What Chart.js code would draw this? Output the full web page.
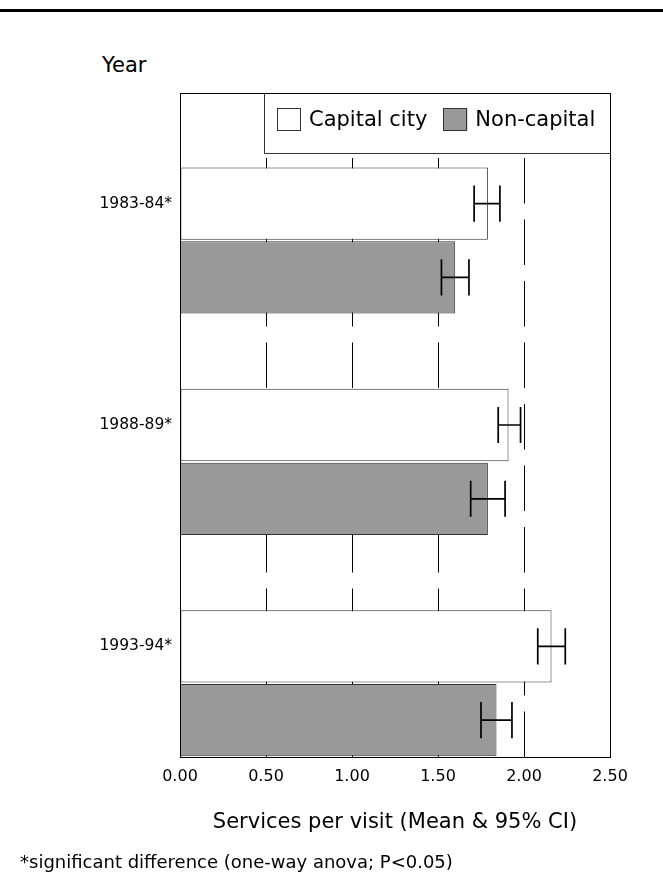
<!DOCTYPE html>
<html>
<head>
<meta charset="utf-8">
<script src="https://cdn.jsdelivr.net/npm/chart.js@4/dist/chart.umd.min.js"></script>
<style>
  body { margin: 0; background: #fff; }
  #wrap { position: relative; width: 663px; height: 896px; overflow: hidden; font-family: "DejaVu Sans", sans-serif; color: #000; }
  #grafico { position: absolute; left: 0; top: 0; }
  #rule { position: absolute; left: 0; top: 9px; width: 663px; height: 3px; background: #000; }
  #year { position: absolute; left: 102px; top: 52px; font-size: 21px; line-height: 26px; }
  #nota { position: absolute; left: 20px; top: 850px; font-size: 18px; line-height: 24px; white-space: nowrap; }
</style>
</head>
<body>
<div id="wrap">
  <div id="rule"></div>
  <div id="year">Year</div>
  <canvas id="grafico" width="663" height="896"></canvas>
  <div id="nota">*significant difference (one-way anova; P&lt;0.05)</div>
</div>
<script>
const anos = ["1983-84*", "1988-89*", "1993-94*"];

// media e IC 95% - capital
const capitalMedia = [1.79, 1.91, 2.16];
const capitalMin = [1.71, 1.85, 2.08];
const capitalMax = [1.86, 1.98, 2.24];

// media e IC 95% - interior
const interiorMedia = [1.60, 1.79, 1.84];
const interiorMin = [1.52, 1.69, 1.75];
const interiorMax = [1.68, 1.89, 1.93];

const xTicks = [0, 0.5, 1, 1.5, 2, 2.5];

const intervalos = {
  1: { lo: capitalMin, hi: capitalMax },
  2: { lo: interiorMin, hi: interiorMax }
};

// barras de erro (IC)
const errorBars = {
  id: "errorBars",
  afterDatasetsDraw(chart) {
    const ctx = chart.ctx;
    const x = chart.scales.x;
    ctx.save();
    ctx.strokeStyle = "#000";
    ctx.lineWidth = 1.7;
    Object.keys(intervalos).forEach(di => {
      const meta = chart.getDatasetMeta(+di);
      meta.data.forEach((bar, i) => {
        const x1 = x.getPixelForValue(intervalos[di].lo[i]);
        const x2 = x.getPixelForValue(intervalos[di].hi[i]);
        const h = bar.height / 4;
        ctx.beginPath();
        ctx.moveTo(x1, bar.y); ctx.lineTo(x2, bar.y);
        ctx.moveTo(x1, bar.y - h); ctx.lineTo(x1, bar.y + h);
        ctx.moveTo(x2, bar.y - h); ctx.lineTo(x2, bar.y + h);
        ctx.stroke();
      });
    });
    ctx.restore();
  }
};

// moldura + legenda dentro do grafico
const moldura = {
  id: "moldura",
  afterDatasetsDraw(chart) {
    const { ctx, chartArea: a } = chart;
    ctx.save();
    // legenda
    const lw = 346, lh = 60;
    const lx = a.right - lw, ly = a.top;
    ctx.fillStyle = "#fff";
    ctx.fillRect(lx, ly, lw, lh);
    ctx.strokeStyle = "#333";
    ctx.lineWidth = 1;
    ctx.strokeRect(Math.round(lx) + 0.5, Math.round(ly) + 0.5, lw, lh);
    ctx.font = '21px "DejaVu Sans"';
    ctx.textBaseline = "middle";
    let cx = lx + 13;
    chart.data.datasets.filter(d => d.label).forEach(d => {
      ctx.fillStyle = d.backgroundColor;
      ctx.fillRect(cx, ly + 15, 24, 23);
      ctx.strokeStyle = "#333";
      ctx.strokeRect(Math.round(cx) + 0.5, Math.round(ly + 15) + 0.5, 23, 22);
      ctx.fillStyle = "#000";
      ctx.fillText(d.label, cx + 32, ly + 28);
      cx += 32 + ctx.measureText(d.label).width + 16;
    });
    // moldura do grafico
    ctx.strokeStyle = "#000";
    ctx.strokeRect(Math.round(a.left) + 0.5, Math.round(a.top) + 0.5,
      Math.round(a.right - a.left), Math.round(a.bottom - a.top));
    ctx.restore();
  }
};

const ctx = document.getElementById("grafico").getContext("2d");
const chart = new Chart(ctx, {
  type: "bar",
  data: {
    labels: anos,
    datasets: [
      { label: "", data: anos.map(() => null) }, // espaco vazio acima da barra da capital
      {
        label: "Capital city",
        data: capitalMedia,
        backgroundColor: "#ffffff",
        borderColor: "#333",
        borderWidth: 1,
        borderSkipped: false
      },
      {
        label: "Non-capital",
        data: interiorMedia,
        backgroundColor: "#999999",
        borderColor: "#333",
        borderWidth: 1,
        borderSkipped: false
      }
    ]
  },
  options: {
    indexAxis: "y",
    responsive: false,
    animation: false,
    devicePixelRatio: 1,
    categoryPercentage: 1,
    barPercentage: 0.98,
    layout: { padding: { top: 93, right: 53, left: 0, bottom: 0 } },
    plugins: { legend: { display: false }, tooltip: { enabled: false } },
    scales: {
      x: {
        min: 0,
        max: 2.5,
        afterFit: s => { s.height = 139; },
        afterBuildTicks: s => { s.ticks = xTicks.map(v => ({ value: v })); },
        ticks: {
          padding: 10,
          color: "#000",
          font: { family: "DejaVu Sans", size: 16 },
          callback: v => Number(v).toFixed(2)
        },
        grid: { color: "#000", lineWidth: 1, drawTicks: false },
        border: { display: false, dash: [45.5, 16], dashOffset: 58 },
        title: {
          display: true,
          text: "Services per visit (Mean & 95% CI)",
          color: "#000",
          font: { family: "DejaVu Sans", size: 21 },
          padding: { top: 0, bottom: 61 }
        }
      },
      y: {
        afterFit: s => { s.width = 180; },
        ticks: {
          padding: 8,
          color: "#000",
          font: { family: "DejaVu Sans", size: 15.5 }
        },
        grid: { display: false, drawTicks: false },
        border: { display: false }
      }
    }
  },
  plugins: [errorBars, moldura]
});
</script>
</body>
</html>
